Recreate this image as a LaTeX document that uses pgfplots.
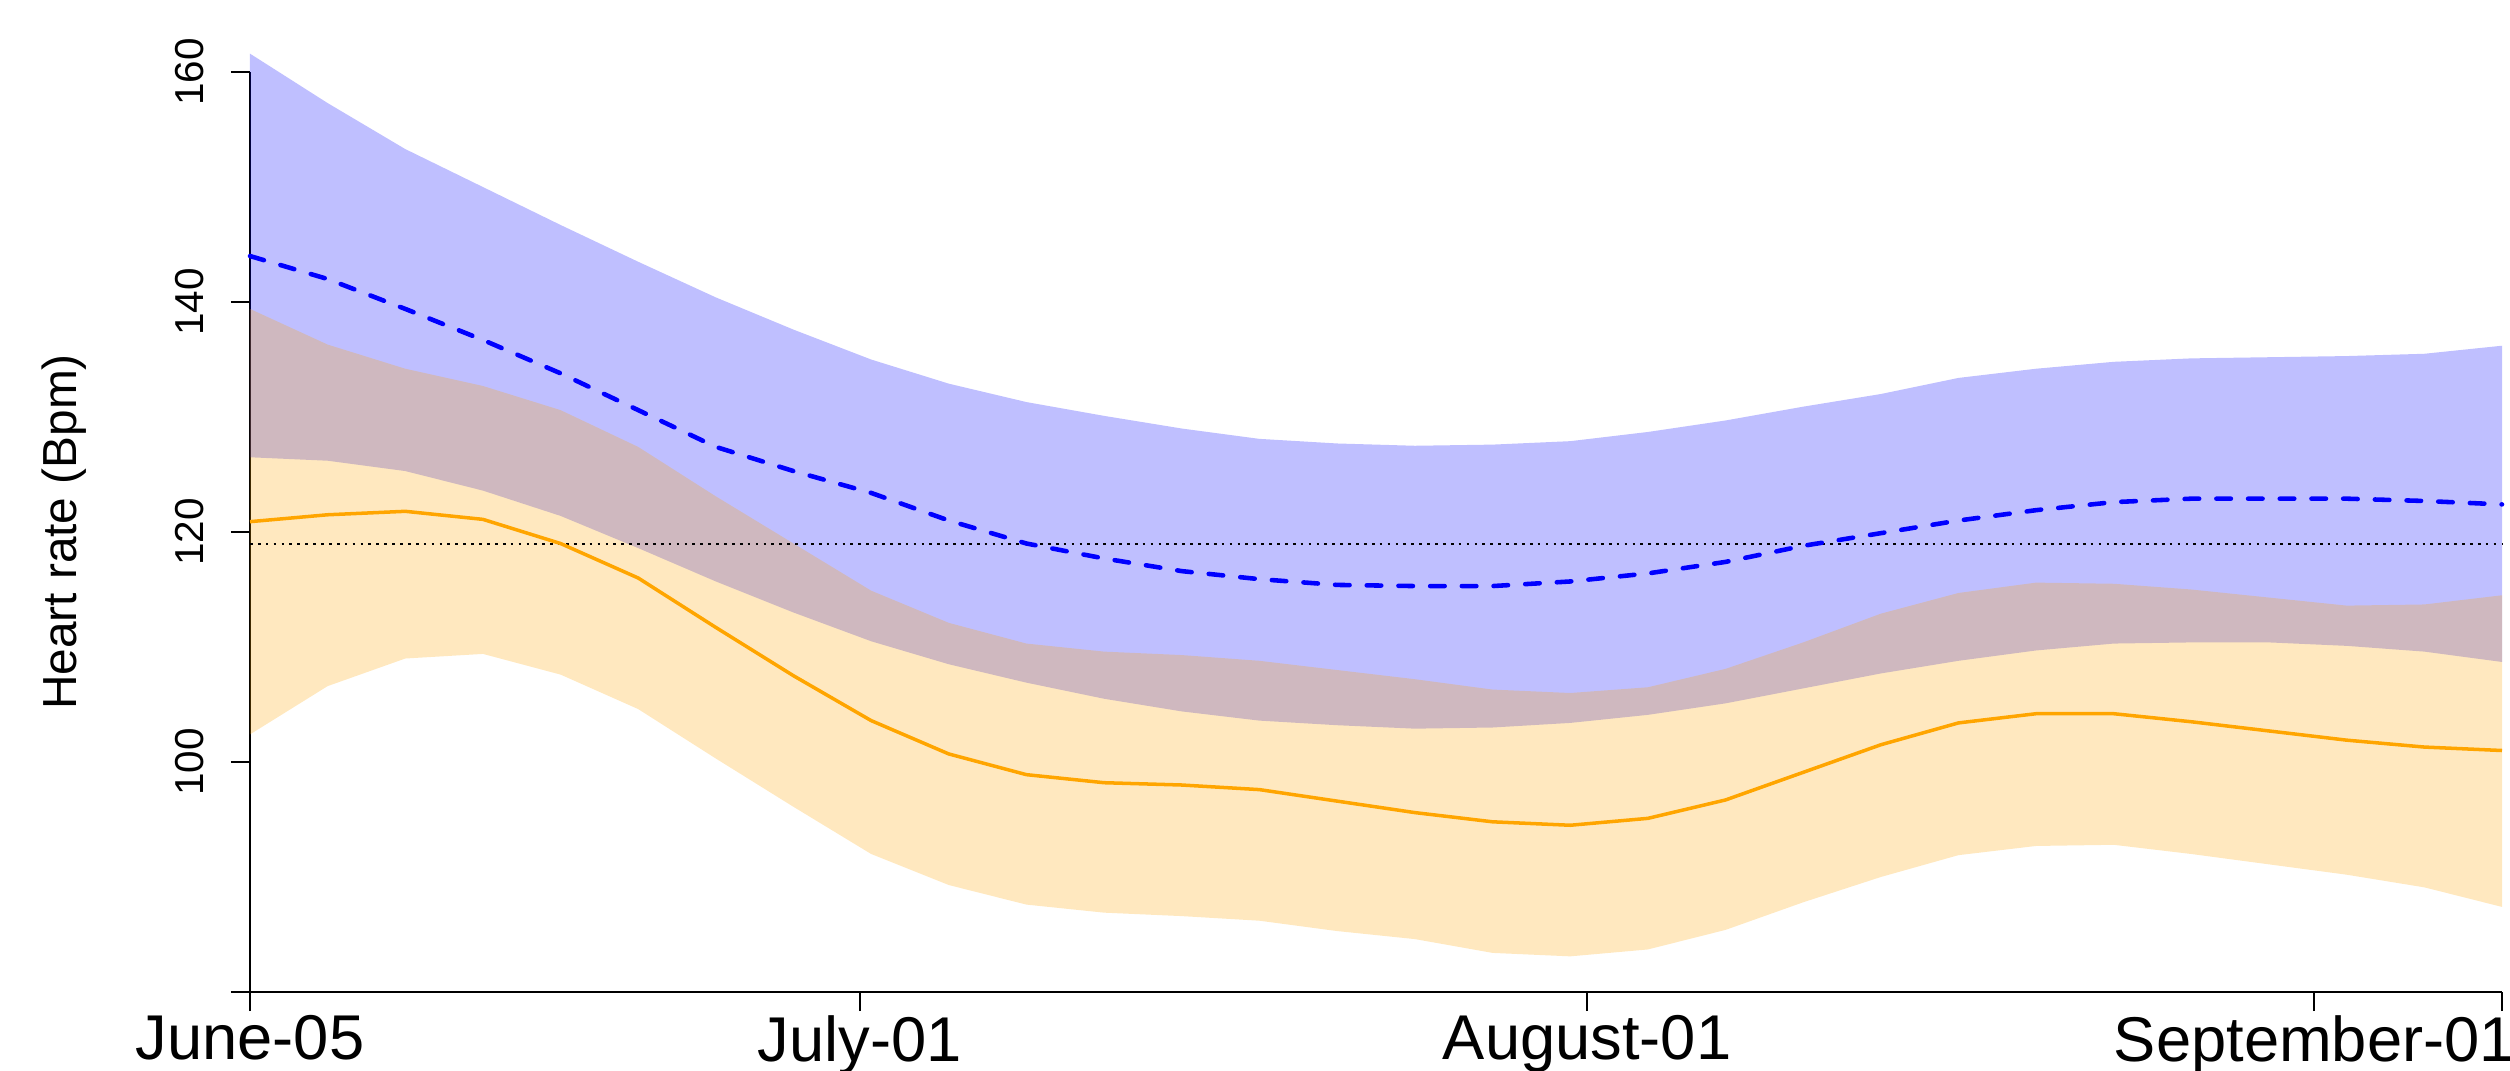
\documentclass[border=0pt]{standalone}
\usepackage{fontspec}
\setmainfont{Liberation Sans}
\usepackage{pgfplots}
\pgfplotsset{compat=1.18}
\usepgfplotslibrary{fillbetween}
\usepackage{pgfplotstable}
% bu/bl: blue band, bm: blue mean; ou/ol: orange band, om: orange mean
\pgfplotstableread{
x     bu    bm    ou    bl    om    ol
0.00  161.6 144.0 139.4 126.5 120.9 102.4
3.31  157.3 142.0 136.3 126.2 121.5 106.6
6.62  153.3 139.4 134.2 125.3 121.8 109.0
9.93  150.0 136.7 132.7 123.6 121.1 109.4
13.24 146.7 133.8 130.6 121.4 119.0 107.6
16.55 143.5 130.6 127.4 118.6 116.0 104.6
19.86 140.4 127.4 123.1 115.7 111.7 100.3
23.17 137.6 125.3 119.0 113.0 107.5 96.1
26.48 135.0 123.4 114.9 110.5 103.6 92.0
29.79 132.9 121.0 112.1 108.5 100.7 89.3
33.10 131.3 119.0 110.3 106.9 98.9  87.6
36.41 130.1 117.7 109.6 105.5 98.2  86.9
39.72 129.0 116.6 109.3 104.4 98.0  86.6
43.03 128.1 115.9 108.8 103.6 97.6  86.2
46.34 127.7 115.4 108.0 103.2 96.6  85.3
49.66 127.5 115.3 107.2 102.9 95.6  84.6
52.97 127.6 115.3 106.3 103.0 94.8  83.4
56.28 127.9 115.7 106.0 103.4 94.5  83.1
59.59 128.7 116.4 106.5 104.1 95.1  83.7
62.90 129.7 117.4 108.1 105.1 96.7  85.4
66.21 130.9 118.8 110.4 106.4 99.1  87.8
69.52 132.0 119.9 112.9 107.7 101.5 90.0
72.83 133.4 121.0 114.7 108.8 103.4 91.9
76.14 134.2 121.9 115.6 109.7 104.2 92.7
79.45 134.8 122.6 115.5 110.3 104.2 92.8
82.76 135.1 122.9 115.0 110.4 103.5 92.0
86.07 135.2 122.9 114.3 110.4 102.7 91.1
89.38 135.3 122.9 113.6 110.1 101.9 90.2
92.69 135.5 122.7 113.7 109.6 101.3 89.1
96.00 136.2 122.4 114.5 108.7 101.0 87.4
}\data
\definecolor{bandblue}{RGB}{0,0,255}
\definecolor{bandorange}{RGB}{255,165,0}
\begin{document}
\begin{tikzpicture}
\begin{axis}[
  at={(0,0)}, anchor=south west,
  scale only axis, width=225.2mm, height=92mm,
  xmin=0, xmax=96, ymin=80, ymax=160,
  axis lines=left, axis line style={-, line width=0.6pt, black},
  tick align=outside, major tick length=1.9mm,
  tick style={line width=0.6pt, black},
  minor tick num=0,
  xtick={0,26,57,88,96},
  xticklabels={June-05,July-01,August-01,September-01,{}},
  ytick={80,100,120,140,160},
  yticklabels={{},100,120,140,160},
  /pgf/number format/assume math mode=true,
  x tick label style={font=\fontsize{18}{20}\selectfont, anchor=north, inner sep=0pt},
  xticklabel shift=0.4mm,
  y tick label style={font=\fontsize{11.5}{13}\selectfont, rotate=90, anchor=south, inner sep=0pt},
  yticklabel shift=2.6mm,
  ylabel={Heart rate (Bpm)},
  ylabel style={font=\fontsize{13.6}{15}\selectfont, at={(axis description cs:-0.0724,0.5)}, anchor=south, inner sep=0pt},
  clip=false,
]
\addplot[name path=bu, draw=none, forget plot] table[x=x,y=bu]{\data};
\addplot[name path=bl, draw=none, forget plot] table[x=x,y=bl]{\data};
\addplot[fill=bandblue, fill opacity=0.25, draw=none] fill between[of=bu and bl];
\addplot[name path=ou, draw=none, forget plot] table[x=x,y=ou]{\data};
\addplot[name path=ol, draw=none, forget plot] table[x=x,y=ol]{\data};
\addplot[fill=bandorange, fill opacity=0.25, draw=none] fill between[of=ou and ol];
\addplot[black, line width=0.57pt, dash pattern=on 0.27mm off 0.52mm] coordinates {(0,119) (96,119)};
\addplot[bandorange, line width=1.0pt] table[x=x,y=om]{\data};
\addplot[bandblue, line width=1.3pt, line cap=round, dash pattern=on 1.45mm off 1.72mm] table[x=x,y=bm]{\data};
\end{axis}
\pgfresetboundingbox
\path[use as bounding box] (-25mm,-7.8mm) rectangle (226mm,99.2mm);
\end{tikzpicture}
\end{document}
